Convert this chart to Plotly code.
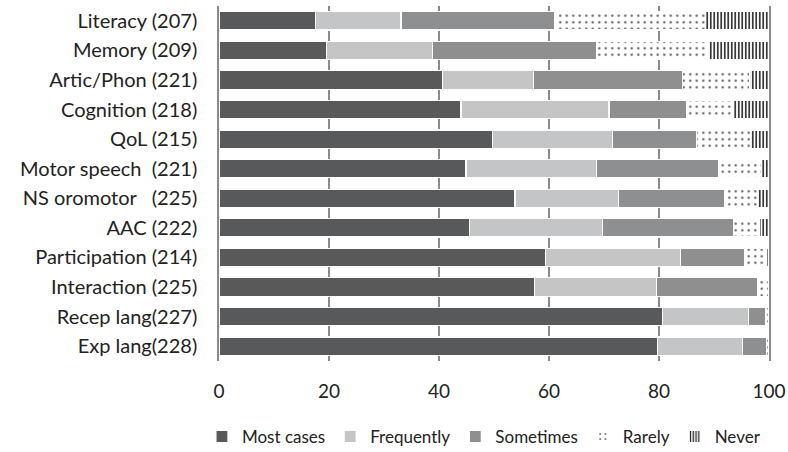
import plotly.graph_objects as go

categories = ["Literacy (207)", "Memory (209)", "Artic/Phon (221)", "Cognition (218)",
              "QoL (215)", "Motor speech  (221)", "NS oromotor   (225)", "AAC (222)",
              "Participation (214)", "Interaction (225)", "Recep lang(227)", "Exp lang(228)"]

most_cases = [17.6, 19.5, 40.7, 44.0, 49.7, 44.9, 53.8, 45.5, 59.4, 57.4, 80.7, 79.7]
frequently = [15.5, 19.3, 16.5, 26.9, 21.8, 23.7, 18.9, 24.2, 24.5, 22.1, 15.6, 15.5]
sometimes  = [28.0, 29.8, 27.1, 14.1, 15.3, 22.2, 19.3, 23.9, 11.6, 18.5, 3.0, 4.3]
rarely     = [27.3, 20.3, 12.2, 8.4, 9.9, 7.8, 5.9, 4.6, 4.0, 2.0, 0.7, 0.5]
never      = [11.6, 11.1, 3.5, 6.6, 3.3, 1.4, 2.1, 1.8, 0.5, 0.0, 0.0, 0.0]

x_ticks = [0, 20, 40, 60, 80, 100]

font_family = "Lato, 'Open Sans', sans-serif"

fig = go.Figure()
series = [
    ("Most cases", most_cases, dict(color="#58595b")),
    ("Frequently", frequently, dict(color="#c4c5c7")),
    ("Sometimes", sometimes, dict(color="#8e8f91")),
    ("Rarely", rarely, dict(color="white",
                            pattern=dict(shape=".", fgcolor="#555555", bgcolor="white",
                                         size=6.5, solidity=0.1, fillmode="replace"))),
    ("Never", never, dict(color="white",
                          pattern=dict(shape="|", fgcolor="#222222", bgcolor="white",
                                       size=3.5, solidity=0.45, fillmode="replace"))),
]
for name, vals, m in series:
    m = dict(m)
    m["line"] = dict(color="white", width=1.2)
    fig.add_trace(go.Bar(y=categories, x=vals, name=name, orientation="h", marker=m))

fig.update_layout(
    barmode="stack",
    bargap=0.38,
    width=788, height=452,
    margin=dict(l=219, r=19, t=6, b=91, autoexpand=False),
    paper_bgcolor="white", plot_bgcolor="white",
    font=dict(family=font_family, size=19, color="#222222"),
    legend=dict(orientation="h", x=-0.031, xanchor="left", y=-0.214, yanchor="middle",
                font=dict(size=17), traceorder="normal", itemwidth=30,
                tracegroupgap=0, bgcolor="rgba(0,0,0,0)"),
    xaxis=dict(range=[0, 100], tickvals=x_ticks, showgrid=True, gridcolor="#8a8a8a",
               gridwidth=1.5, zeroline=False, showline=False, ticks="",
               ticklabelstandoff=17, tickfont=dict(size=19, color="#222222"),
               automargin=False),
    yaxis=dict(autorange="reversed", showline=True, mirror=True, linecolor="#8a8a8a",
               linewidth=1.5, ticks="", ticklabelstandoff=16,
               tickfont=dict(size=20, color="#222222"), automargin=False),
)

fig.write_html("out.html", config={"displayModeBar": False},
               post_script="document.body.style.margin='0px';")
